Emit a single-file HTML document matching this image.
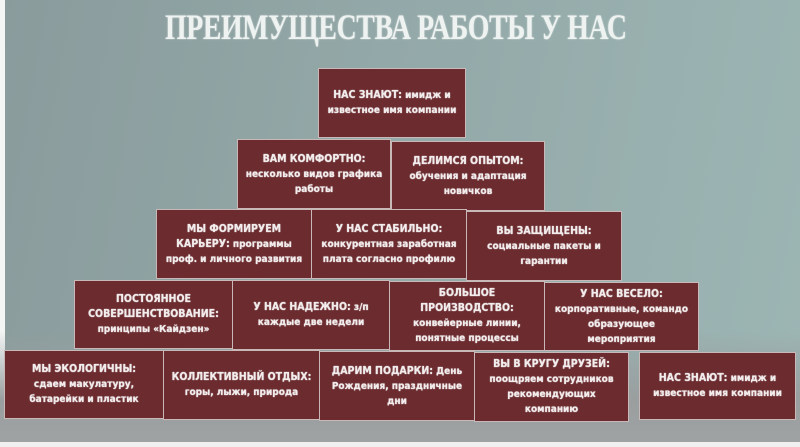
<!DOCTYPE html>
<html><head><meta charset="utf-8"><style>
html,body{margin:0;padding:0}
body{width:800px;height:447px;position:relative;overflow:hidden;
background:linear-gradient(100deg,#8a9b9c 0%,#93a8a8 45%,#9cb6b4 100%);
font-family:"DejaVu Sans Condensed","Liberation Sans",sans-serif}
.strip{position:absolute;left:0;top:0;width:5px;height:447px;background:#f4f6f6}
.bot{position:absolute;left:0;top:330px;width:800px;height:117px;background:linear-gradient(180deg,rgba(150,155,158,0) 0%,#9a9e9f 60%,#a0a3a4 100%)}
.white{position:absolute;left:0;top:442px;width:800px;height:5px;background:#f0f0f0}
.title{position:absolute;left:165px;top:6px;white-space:nowrap;
font-family:"Liberation Serif",serif;font-weight:bold;font-size:36px;color:#eef3f1;
transform:scaleX(0.773);transform-origin:left top;letter-spacing:-0.5px;
text-shadow:0 0 2px rgba(255,255,255,.6)}
.b{position:absolute;box-sizing:border-box;background:#6b2b2f;border:1.5px solid #c9b8b8;
color:#f2ecec;font-size:10px;font-weight:bold;line-height:15px;text-align:center;
display:flex;align-items:center;justify-content:center;padding:2px 4px;
text-shadow:0 0 1px #fff}
.b .u{font-size:10.5px}
</style></head><body>
<div class="strip"></div>
<div class="bot"></div>
<div class="white"></div>
<div class="title">ПРЕИМУЩЕСТВА РАБОТЫ У НАС</div>

<div class="b" style="left:318px;top:68px;width:148px;height:70px"><div><span class="u">НАС ЗНАЮТ:</span> имидж и<br>известное имя компании</div></div>

<div class="b" style="left:237px;top:139px;width:154px;height:70px"><div><span class="u">ВАМ КОМФОРТНО:</span><br>несколько видов графика<br>работы</div></div>
<div class="b" style="left:391px;top:141px;width:154px;height:70px"><div><span class="u">ДЕЛИМСЯ ОПЫТОМ:</span><br>обучения и адаптация<br>новичков</div></div>

<div class="b" style="left:156px;top:209px;width:156px;height:70px"><div><span class="u">МЫ ФОРМИРУЕМ<br>КАРЬЕРУ:</span> программы<br>проф. и личного развития</div></div>
<div class="b" style="left:311px;top:209px;width:156px;height:70px"><div><span class="u">У НАС СТАБИЛЬНО:</span><br>конкурентная заработная<br>плата согласно профилю</div></div>
<div class="b" style="left:466px;top:211px;width:156px;height:70px"><div><span class="u">ВЫ ЗАЩИЩЕНЫ:</span><br>социальные пакеты и<br>гарантии</div></div>

<div class="b" style="left:74px;top:280px;width:159px;height:69px"><div><span class="u">ПОСТОЯННОЕ<br>СОВЕРШЕНСТВОВАНИЕ:</span><br>принципы «Кайдзен»</div></div>
<div class="b" style="left:232px;top:280px;width:158px;height:70px"><div><span class="u">У НАС НАДЕЖНО:</span> з/п<br>каждые две недели</div></div>
<div class="b" style="left:389px;top:281px;width:156px;height:70px"><div><span class="u">БОЛЬШОЕ<br>ПРОИЗВОДСТВО:</span><br>конвейерные линии,<br>понятные процессы</div></div>
<div class="b" style="left:544px;top:282px;width:155px;height:69px"><div><span class="u">У НАС ВЕСЕЛО:</span><br>корпоративные, командо<br>образующее<br>мероприятия</div></div>

<div class="b" style="left:4px;top:350px;width:160px;height:69px"><div><span class="u">МЫ ЭКОЛОГИЧНЫ:</span><br>сдаем макулатуру,<br>батарейки и пластик</div></div>
<div class="b" style="left:163px;top:350px;width:157px;height:70px"><div><span class="u">КОЛЛЕКТИВНЫЙ ОТДЫХ:</span><br>горы, лыжи, природа</div></div>
<div class="b" style="left:319px;top:351px;width:156px;height:70px"><div><span class="u">ДАРИМ ПОДАРКИ:</span> День<br>Рождения, праздничные<br>дни</div></div>
<div class="b" style="left:474px;top:352px;width:155px;height:70px"><div><span class="u">ВЫ В КРУГУ ДРУЗЕЙ:</span><br>поощряем сотрудников<br>рекомендующих<br>компанию</div></div>
<div class="b" style="left:639px;top:352px;width:157px;height:68px"><div><span class="u">НАС ЗНАЮТ:</span> имидж и<br>известное имя компании</div></div>
</body></html>
